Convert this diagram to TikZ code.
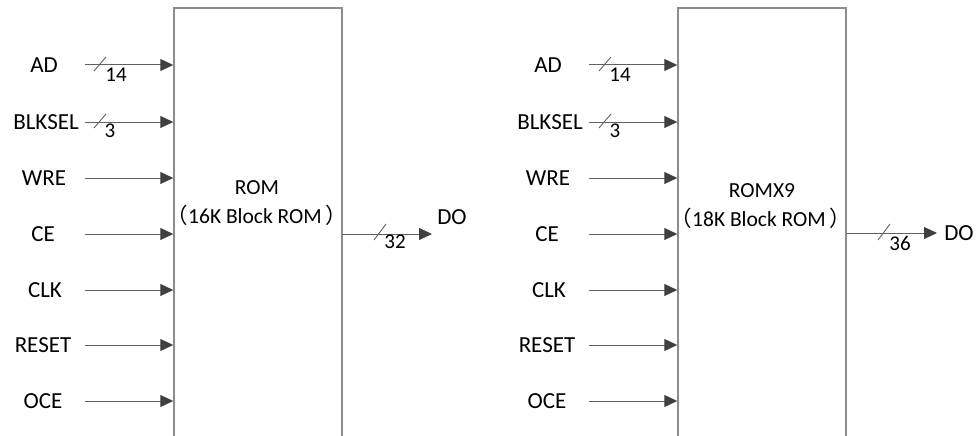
\documentclass[tikz,border=0pt]{standalone}
\usepackage{fontspec}
\setmainfont{Carlito}
\newfontfamily\cjk{Noto Sans CJK SC}
\usetikzlibrary{arrows.meta}
\definecolor{boxgray}{HTML}{8C8C8C}
\definecolor{linegray}{HTML}{606060}
\definecolor{tipgray}{HTML}{404040}
\begin{document}
\begin{tikzpicture}[x=1pt,y=-1pt,
  lbl/.style={inner sep=0pt, font=\fontsize{23}{26}\selectfont},
  num/.style={inner sep=0pt, font=\fontsize{21}{24}\selectfont},
  btxt/.style={inner sep=0pt, font=\fontsize{21.5}{24}\selectfont},
  blk/.style={draw=boxgray, line width=1.4pt, minimum width=168pt, minimum height=452pt, inner sep=0pt},
  arr/.style={draw=linegray, line width=1pt, -{Triangle[length=13pt,width=12pt,fill=tipgray,color=tipgray]}},
  slash/.style={draw=linegray, line width=0.9pt}
]
\useasboundingbox (0,0) rectangle (980,436);
\clip (0,0) rectangle (980,436);

% ---------- block 1 ----------
\node[blk] (rom1) at (258,234) {};
\node[btxt] (r1a) at (257,188) {ROM};
\node[btxt] (r1b) at (257,215) {{\cjk （}16K Block ROM\hspace{4pt}{\cjk ）}};

\node[lbl] (ad1)  at (44,65)  {AD};
\node[lbl] (bk1)  at (46,122) {BLKSEL};
\node[lbl] (we1)  at (44,178) {WRE};
\node[lbl] (ce1)  at (43,234) {CE};
\node[lbl] (ck1)  at (45,290) {CLK};
\node[lbl] (rs1)  at (43,345) {RESET};
\node[lbl] (oc1)  at (43,401) {OCE};

\coordinate (sad1) at (85,65);
\coordinate (sbk1) at (85,122);
\coordinate (swe1) at (85,178);
\coordinate (sce1) at (85,234);
\coordinate (sck1) at (85,290);
\coordinate (srs1) at (85,345);
\coordinate (soc1) at (85,401);
\foreach \s in {sad1,sbk1,swe1,sce1,sck1,srs1,soc1}
  \draw[arr] (\s) -- (\s -| rom1.west);

\draw[slash] (100,64) +(-6,7) -- +(6,-7);
\node[num] (n14a) at (116,75) {14};
\draw[slash] (100,121) +(-6,7) -- +(6,-7);
\node[num] (n3a) at (110,131) {3};

\coordinate (o1) at (432,234);
\draw[arr] (rom1.east |- o1) -- (o1);
\draw[slash] (380,232) +(-6,8) -- +(6,-8);
\node[num] (n32) at (395,242) {32};
\node[lbl] (do1) at (452,217) {DO};

% ---------- block 2 ----------
\node[blk] (rom2) at (762,234) {};
\node[btxt] (r2a) at (762,191) {ROMX9};
\node[btxt] (r2b) at (761,218) {{\cjk （}18K Block ROM\hspace{4pt}{\cjk ）}};

\node[lbl] (ad2)  at (548,65)  {AD};
\node[lbl] (bk2)  at (550,122) {BLKSEL};
\node[lbl] (we2)  at (548,178) {WRE};
\node[lbl] (ce2)  at (547,234) {CE};
\node[lbl] (ck2)  at (549,290) {CLK};
\node[lbl] (rs2)  at (547,345) {RESET};
\node[lbl] (oc2)  at (547,401) {OCE};

\coordinate (sad2) at (589,65);
\coordinate (sbk2) at (589,122);
\coordinate (swe2) at (589,178);
\coordinate (sce2) at (589,234);
\coordinate (sck2) at (589,290);
\coordinate (srs2) at (589,345);
\coordinate (soc2) at (589,401);
\foreach \s in {sad2,sbk2,swe2,sce2,sck2,srs2,soc2}
  \draw[arr] (\s) -- (\s -| rom2.west);

\draw[slash] (605,64) +(-6,7) -- +(6,-7);
\node[num] (n14b) at (620,75) {14};
\draw[slash] (605,121) +(-6,7) -- +(6,-7);
\node[num] (n3b) at (615,131) {3};

\coordinate (o2) at (937,233);
\draw[arr] (rom2.east |- o2) -- (o2);
\draw[slash] (884,232) +(-6,8) -- +(6,-8);
\node[num] (n36) at (900,243) {36};
\node[lbl] (do2) at (959,233) {DO};
\end{tikzpicture}
\end{document}
